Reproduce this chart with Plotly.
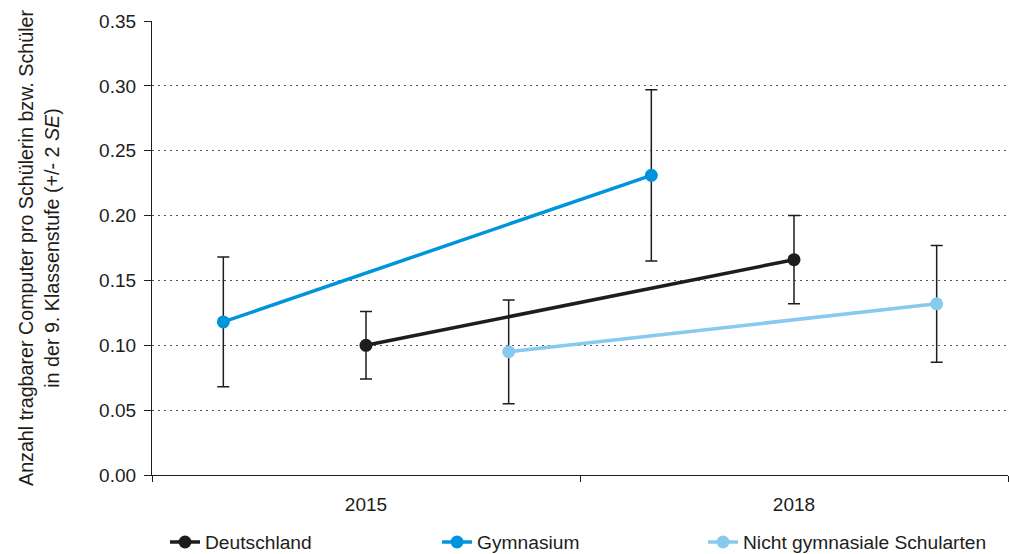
import plotly.graph_objects as go

years = ["2015", "2018"]
series_names = ["Gymnasium", "Deutschland", "Nicht gymnasiale Schularten"]
values = {
    "Deutschland": [0.100, 0.166],
    "Gymnasium": [0.118, 0.231],
    "Nicht gymnasiale Schularten": [0.095, 0.132],
}
errors = {
    "Deutschland": [0.026, 0.034],
    "Gymnasium": [0.050, 0.066],
    "Nicht gymnasiale Schularten": [0.040, 0.045],
}
colors = {
    "Deutschland": "#1d1d1b",
    "Gymnasium": "#0095db",
    "Nicht gymnasiale Schularten": "#88c9ee",
}
legend_order = ["Deutschland", "Gymnasium", "Nicht gymnasiale Schularten"]
legend_ids = ["legend", "legend2", "legend3"]
legend_x = [0.0152, 0.333, 0.6437]
y_ticks = [0.00, 0.05, 0.10, 0.15, 0.20, 0.25, 0.30, 0.35]

n = len(series_names)
fig = go.Figure()
for name, lid in zip(legend_order, legend_ids):
    k = series_names.index(name)
    xs = [i * n + k + 0.5 for i in range(len(years))]
    fig.add_trace(go.Scatter(
        x=xs, y=values[name], name=name, mode="lines+markers",
        line=dict(color=colors[name], width=3.5),
        marker=dict(color=colors[name], size=13),
        error_y=dict(type="data", array=errors[name], color="#1d1d1b",
                     thickness=1.5, width=6),
        legend=lid, showlegend=True,
    ))

font = "Liberation Sans, Arial, sans-serif"
legend_layouts = {
    lid: dict(orientation="h", x=lx, y=-0.1476, yanchor="middle", xanchor="left",
              font=dict(size=19.2), bgcolor="rgba(0,0,0,0)", visible=True)
    for lid, lx in zip(legend_ids, legend_x)
}
fig.update_layout(
    width=1009, height=554,
    margin=dict(l=152, r=1, t=21, b=79, autoexpand=False),
    paper_bgcolor="white", plot_bgcolor="white",
    font=dict(family=font, size=19, color="#1d1d1b"),
    showlegend=True,
    **legend_layouts,
    xaxis=dict(
        range=[0, n * len(years)], tickmode="array",
        tickvals=[i * n + n / 2 for i in range(len(years))], ticktext=years,
        ticks="outside", ticklen=12, tickcolor="rgba(0,0,0,0)",
        showline=True, linecolor="#1d1d1b", linewidth=1.2,
        showgrid=False, zeroline=False,
        minor=dict(tickmode="array", tickvals=[i * n for i in range(len(years) + 1)],
                   ticks="outside", ticklen=6, tickcolor="#1d1d1b", showgrid=False),
    ),
    yaxis=dict(
        range=[0, 0.35], tickmode="array", tickvals=y_ticks,
        ticktext=[f"{v:.2f}" for v in y_ticks],
        ticks="outside", ticklen=7, tickcolor="#1d1d1b", ticklabelstandoff=4,
        showline=True, linecolor="#1d1d1b", linewidth=1.2,
        showgrid=True, gridcolor="#555555", griddash="2px,4px", gridwidth=1.2,
        zeroline=False,
        title=dict(text="Anzahl tragbarer Computer pro Schülerin bzw. Schüler<br>in der 9. Klassenstufe (+/- 2 <i>SE</i>)",
                   font=dict(size=19.7), standoff=34),
    ),
)
fig.write_html(
    "out.html",
    config={"displayModeBar": False},
    post_script="document.body.style.margin='0';document.body.style.overflow='hidden';",
)
